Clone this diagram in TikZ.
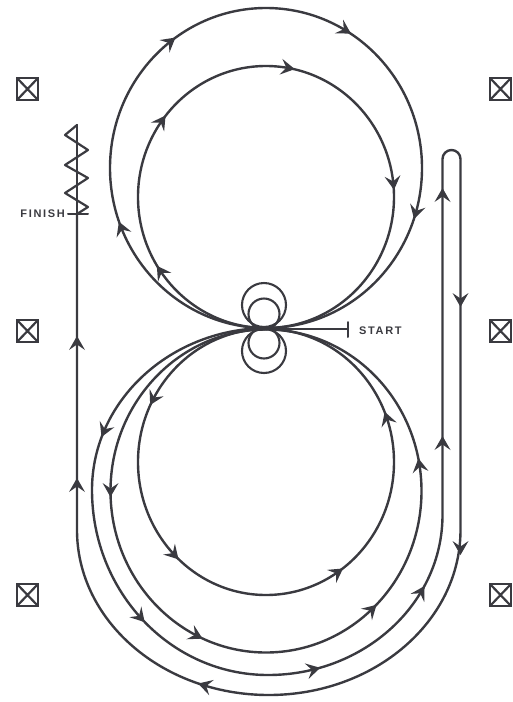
\documentclass[tikz,border=0pt]{standalone}
\usepackage{fontspec}
\setmainfont{Liberation Sans}
\definecolor{ink}{HTML}{3A3A40}
\tikzset{
  track/.style={draw=ink,line width=2.4pt,line cap=round,line join=round},
  fine/.style={draw=ink,line width=2.1pt},
  tag/.style={text=ink,font=\fontsize{11}{12}\selectfont\bfseries\addfontfeature{LetterSpace=15},inner sep=0pt}
}
\newcommand{\headat}[3]{%
  \fill[ink,shift={(#1,#2)},rotate=-#3] (7,0) -- (-7,-8) -- (-1.5,0) -- (-7,8) -- cycle;}
% cx cy rx ry x y sign
\newcommand{\onring}[7]{%
  \pgfmathsetmacro\thA{atan2((#6-#2)/#4,(#5-#1)/#3)}%
  \pgfmathsetmacro\xA{#1+#3*cos(\thA)}%
  \pgfmathsetmacro\yA{#2+#4*sin(\thA)}%
  \pgfmathsetmacro\dA{atan2(#7*#4*cos(\thA),-#7*#3*sin(\thA))}%
  \headat{\xA}{\yA}{\dA}}
\newcommand{\marker}[2]{%
  \draw[draw=ink,line width=2.6pt] (#1-10.5,#2-11) rectangle (#1+10.5,#2+11);
  \draw[draw=ink,line width=2.2pt] (#1-10.5,#2-11) -- (#1+10.5,#2+11) (#1-10.5,#2+11) -- (#1+10.5,#2-11);}
\begin{document}
\begin{tikzpicture}[x=1pt,y=-1pt]
\useasboundingbox (0,0) rectangle (512,702);
% upper circles
\draw[track] (266,168) ellipse[x radius=156pt,y radius=160pt];
\draw[track] (266,197) ellipse[x radius=128pt,y radius=131pt];
% lower circles
\draw[track] (266,462) ellipse[x radius=128pt,y radius=133pt];
\draw[track] (266,491) ellipse[x radius=155.5pt,y radius=161.5pt];
% small loops
\draw[fine] (264,305) circle[radius=22pt];
\draw[fine] (264,314) circle[radius=15.5pt];
\draw[fine] (264,351) circle[radius=22pt];
\draw[fine] (264,343) circle[radius=15.5pt];
% start
\coordinate (c0) at (264,329);
\coordinate (s1) at (348,329);
\coordinate (s2) at (348,322);
\coordinate (s3) at (348,337);
\draw[track,line width=2pt] (c0) -- (s1);
\draw[track,line width=2pt] (s2) -- (s3);
\node[tag,anchor=west] (start) at (359,331) {START};
% long run
\coordinate (a0) at (268,328);
\coordinate (r2) at (442.5,159);
\coordinate (r4) at (460.5,530);
\coordinate (l2) at (77,214);
\draw[track] (a0)
  arc[start angle=90,end angle=180,x radius=176pt,y radius=162pt]
  arc[start angle=180,end angle=270,x radius=176pt,y radius=185pt]
  arc[start angle=270,end angle=360,x radius=174.5pt,y radius=160pt]
  -- (r2) arc[start angle=180,end angle=0,radius=9pt]
  -- (r4) arc[start angle=0,end angle=-180,x radius=191.75pt,y radius=165pt]
  -- (l2);
% zigzag
\coordinate (ztop) at (77,125);
\draw[track,line width=2.2pt] (l2) -- (ztop);
\draw[track,line width=2.2pt] (l2) -- (88,207) -- (65,193) -- (88,178) -- (65,165) -- (88,150) -- (65,135) -- (ztop);
\coordinate (f1) at (68,214);
\coordinate (f2) at (88,214);
\draw[track,line width=2pt] (f1) -- (f2);
\node[tag,anchor=east] (finish) at (65,214) {FINISH};
% markers
\marker{27.5}{89}\marker{27.5}{331}\marker{27.5}{595}
\marker{500.5}{89}\marker{500.5}{331}\marker{500.5}{595}
% arrow heads
\onring{266}{168}{156}{160}{170}{42}{1}
\onring{266}{168}{156}{160}{345}{30}{1}
\onring{266}{168}{156}{160}{415}{212}{1}
\onring{266}{168}{156}{160}{122}{228}{1}
\onring{266}{197}{128}{131}{157}{118}{1}
\onring{266}{197}{128}{131}{288}{67}{1}
\onring{266}{197}{128}{131}{392}{183}{1}
\onring{266}{197}{128}{131}{160}{272}{1}
\onring{266}{462}{128}{133}{388}{418}{-1}
\onring{266}{462}{128}{133}{152}{398}{-1}
\onring{266}{462}{128}{133}{175}{553}{-1}
\onring{266}{462}{128}{133}{337}{572}{-1}
\onring{266}{491}{155.5}{161.5}{112}{490}{-1}
\onring{266}{491}{155.5}{161.5}{198}{632}{-1}
\onring{266}{491}{155.5}{161.5}{370}{608}{-1}
\onring{266}{491}{155.5}{161.5}{421}{465}{-1}
\onring{268}{490}{176}{162}{103}{430}{-1}
\onring{268}{490}{176}{185}{135}{622}{-1}
\onring{268}{515}{174.5}{160}{313}{668}{-1}
\onring{268}{515}{174.5}{160}{421}{592}{-1}
\onring{268.75}{530}{191.75}{165}{203}{690}{1}
\headat{442.5}{443}{-90}
\headat{442.5}{195}{-90}
\headat{460.5}{300}{90}
\headat{460.5}{548}{90}
\headat{77}{485}{-90}
\headat{77}{343}{-90}
\end{tikzpicture}
\end{document}
